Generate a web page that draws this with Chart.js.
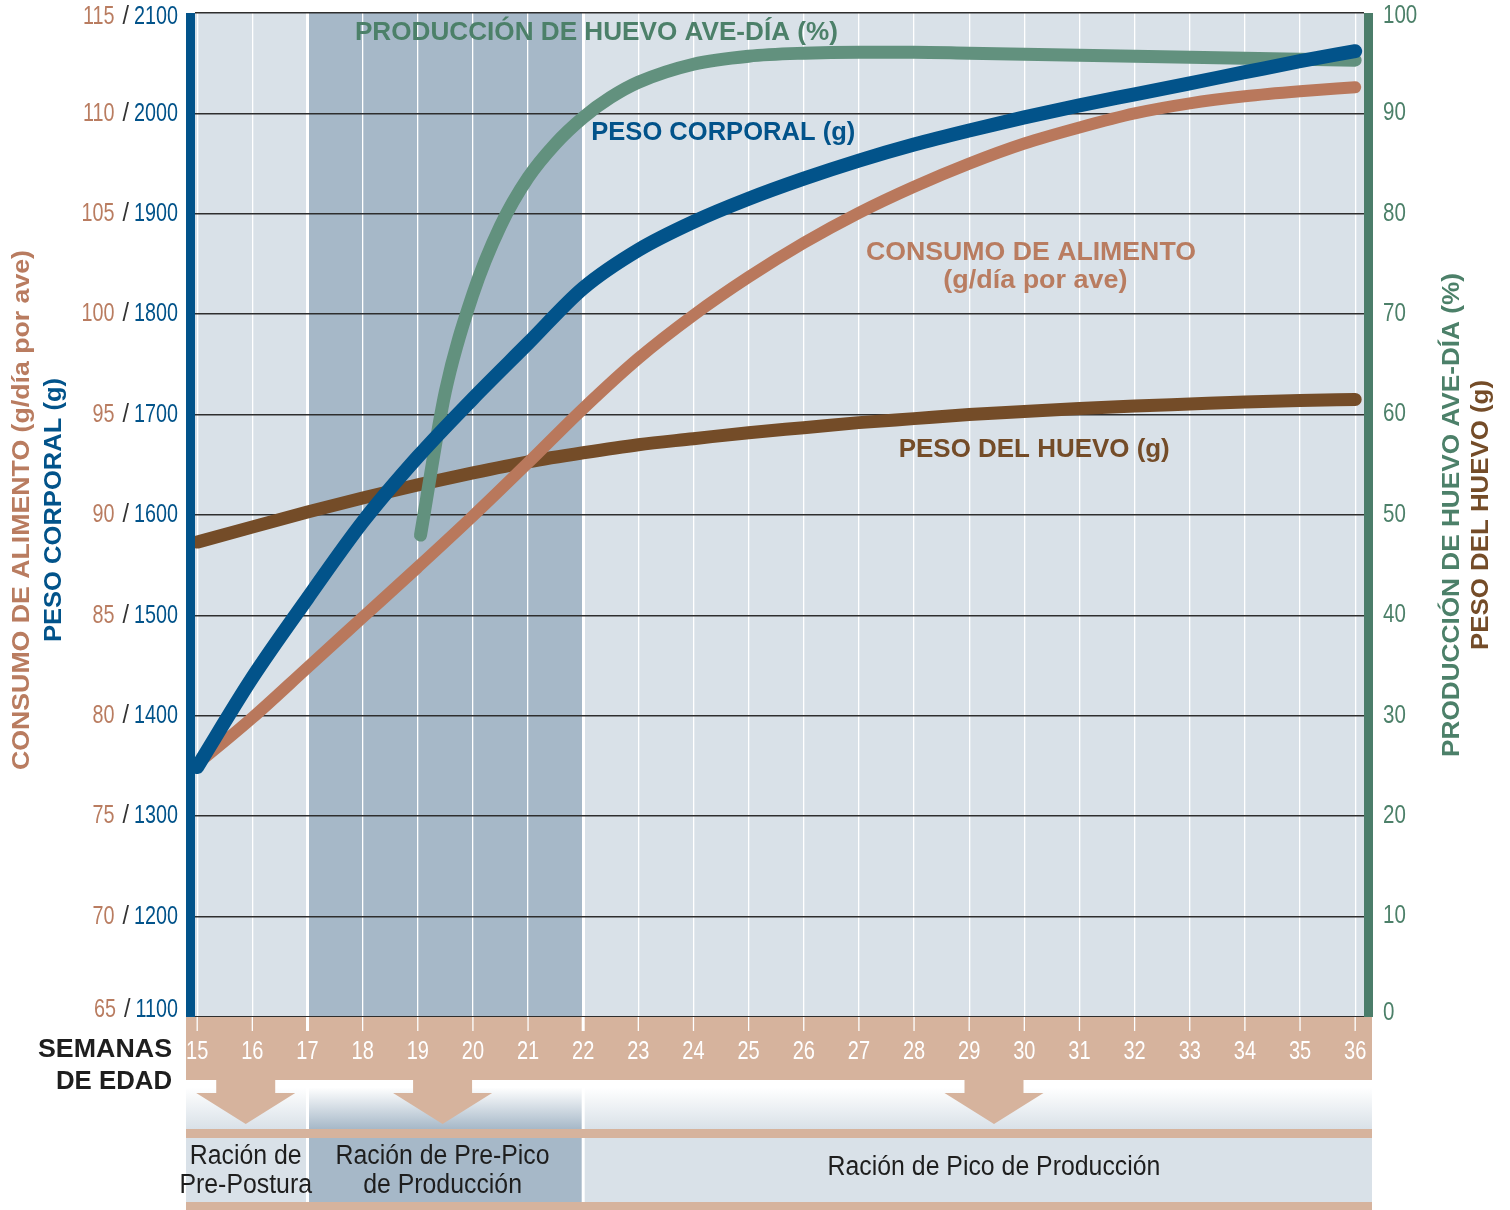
<!DOCTYPE html>
<html>
<head>
<meta charset="utf-8">
<script src="https://cdn.jsdelivr.net/npm/chart.js@4.4.1/dist/chart.umd.min.js"></script>
<style>
  html, body { margin: 0; padding: 0; background: #fff; }
  #wrap { width: 1510px; height: 1210px; }
</style>
</head>
<body>
<div id="wrap"><canvas id="chart" width="1510" height="1210"></canvas></div>
<script>
// weeks of age (x axis)
const weeks = [15, 16, 17, 18, 19, 20, 21, 22, 23, 24, 25, 26, 27, 28, 29, 30, 31, 32, 33, 34, 35, 36];

// PESO CORPORAL (g) - left axis
const bodyWeight = [1349, 1438, 1517, 1593, 1658, 1716, 1771, 1826, 1864, 1892, 1915, 1935, 1953, 1969, 1983, 1996, 2008, 2019, 2030, 2041, 2052, 2062];

// CONSUMO DE ALIMENTO (g/día por ave) - left axis, first number
const feedIntake = [77.6, 79.9, 82.4, 84.9, 87.4, 89.95, 92.6, 95.3, 97.8, 99.95, 101.85, 103.55, 105.05, 106.35, 107.5, 108.5, 109.3, 110.0, 110.5, 110.85, 111.1, 111.3];

// PESO DEL HUEVO (g) - right axis
const eggWeight = [47.3, 48.8, 50.3, 51.7, 53.0, 54.2, 55.3, 56.2, 57.0, 57.6, 58.2, 58.7, 59.2, 59.6, 60.0, 60.3, 60.6, 60.85, 61.05, 61.25, 61.4, 61.5];

// PRODUCCIÓN DE HUEVO AVE-DÍA (%) - right axis, starts at week 19
const prodWeeks = [19.05, 19.5, 20, 20.5, 21, 21.5, 22, 22.5, 23, 24, 25, 26, 27, 28, 29, 30, 31, 32, 33, 34, 35, 36];
const eggProduction = [48, 62.3, 72, 78.8, 83.6, 87.0, 89.6, 91.6, 93.1, 94.9, 95.7, 96.0, 96.1, 96.1, 96.0, 95.9, 95.8, 95.7, 95.6, 95.5, 95.4, 95.3];

// tick labels
const feedTicks = [65, 70, 75, 80, 85, 90, 95, 100, 105, 110, 115];
const bodyTicks = [1100, 1200, 1300, 1400, 1500, 1600, 1700, 1800, 1900, 2000, 2100];
const pctTicks = [0, 10, 20, 30, 40, 50, 60, 70, 80, 90, 100];

// feeding phases (weeks where they change)
const phaseBreaks = [17, 22];
const phaseNames = [["Ración de", "Pre-Postura"], ["Ración de Pre-Pico", "de Producción"], ["Ración de Pico de Producción"]];
const phaseArrowWeeks = [15.88, 19.45, 29.45];

const C = {
  blue: "#02538a",
  tan: "#b9785c",
  tanText: "#b97c60",
  brown: "#744c28",
  green: "#62917e",
  greenBar: "#4b7d6a",
  greenText: "#4c8069",
  light: "#d9e1e8",
  dark: "#a6b8c8",
  band: "#d6b39d",
  grid: "#2e2e2e",
  ink: "#1e1e1e"
};

const FONT = '"Liberation Sans", Arial, sans-serif';

function pts(xs, ys) {
  return xs.map((v, i) => ({ x: v, y: ys[i] }));
}

function drawText(ctx, s, x, y, o) {
  ctx.save();
  ctx.font = o.font;
  ctx.fillStyle = o.color;
  ctx.textBaseline = "middle";
  ctx.textAlign = o.align || "center";
  ctx.translate(x, y);
  if (o.rot) ctx.rotate(o.rot);
  const w = ctx.measureText(s).width;
  const sx = o.w ? o.w / w : (o.sx || 1);
  ctx.scale(sx, 1);
  ctx.fillText(s, 0, 0);
  ctx.restore();
  return w * sx;
}

const decor = {
  id: "decor",
  beforeDraw(chart) {
    const { ctx, chartArea: a, scales } = chart;
    const x = scales.x;
    const x1 = x.getPixelForValue(phaseBreaks[0]);
    const x2 = x.getPixelForValue(phaseBreaks[1]);
    ctx.save();
    ctx.fillStyle = C.light;
    ctx.fillRect(a.left, a.top, a.right - a.left, a.bottom - a.top);
    ctx.fillStyle = C.dark;
    ctx.fillRect(x1, a.top, x2 - x1, a.bottom - a.top);
    ctx.restore();
  },
  afterDraw(chart) {
    const { ctx, chartArea: a, scales } = chart;
    const x = scales.x, yB = scales.y, yF = scales.yFeed, yP = scales.yPct;

    // axis bars
    ctx.fillStyle = C.blue;
    ctx.fillRect(a.left - 9, a.top, 9, a.bottom - a.top);
    ctx.fillStyle = C.greenBar;
    ctx.fillRect(a.right, a.top, 9, a.bottom - a.top);

    // left tick labels: feed / body weight
    const numFont = "26px " + FONT;
    const clampY = yy => Math.min(Math.max(yy, a.top + 4), a.bottom - 7);
    bodyTicks.forEach((b, i) => {
      let right = a.left - 17;
      right -= drawText(ctx, String(b), right, clampY(yB.getPixelForValue(b)), { font: numFont, color: C.blue, sx: 0.76, align: "right" }) + 5;
      right -= drawText(ctx, "/", right, clampY(yB.getPixelForValue(b)), { font: numFont, color: "#333", sx: 0.9, align: "right" }) + 8;
      const f = feedTicks[i];
      drawText(ctx, String(f), right, clampY(yF.getPixelForValue(f)), { font: numFont, color: C.tanText, sx: 0.76, align: "right" });
    });

    // right tick labels
    pctTicks.forEach(v => {
      let yy = yP.getPixelForValue(v);
      yy = Math.min(Math.max(yy, a.top + 3), a.bottom - 4);
      drawText(ctx, String(v), a.right + 19, yy, { font: "25px " + FONT, color: C.greenText, sx: 0.82, align: "left" });
    });

    // axis titles
    const up = -Math.PI / 2;
    const tFont = "bold 24px " + FONT;
    drawText(ctx, "CONSUMO DE ALIMENTO (g/día por ave)", 22, 510, { font: tFont, color: C.tanText, rot: up, w: 520 });
    drawText(ctx, "PESO CORPORAL (g)", 54, 510, { font: tFont, color: C.blue, rot: up, w: 264 });
    drawText(ctx, "PRODUCCIÓN DE HUEVO AVE-DÍA (%)", 1452, 515, { font: tFont, color: C.greenText, rot: up, w: 484 });
    drawText(ctx, "PESO DEL HUEVO (g)", 1481, 515, { font: tFont, color: C.brown, rot: up, w: 270 });

    // series labels inside the plot (week, % on right axis)
    const lFont = "bold 25px " + FONT;
    [
      { t: "PRODUCCIÓN DE HUEVO AVE-DÍA (%)", wk: 22.24, p: 98.0, w: 483, c: C.greenText },
      { t: "PESO CORPORAL (g)", wk: 24.54, p: 88.0, w: 264, c: C.blue },
      { t: "CONSUMO DE ALIMENTO", wk: 30.12, p: 76.1, w: 330, c: C.tanText },
      { t: "(g/día por ave)", wk: 30.2, p: 73.3, w: 184, c: C.tanText },
      { t: "PESO DEL HUEVO (g)", wk: 30.18, p: 56.5, w: 271, c: C.brown }
    ].forEach(l => {
      drawText(ctx, l.t, x.getPixelForValue(l.wk), yP.getPixelForValue(l.p), { font: lFont, color: l.c, w: l.w });
    });

    // bottom band with weeks
    const bandL = a.left - 9, bandR = a.right + 8;
    const yGrad = a.bottom + 63, yBar1 = a.bottom + 112, yBox = a.bottom + 121, yBar2 = a.bottom + 185;
    ctx.fillStyle = C.band;
    ctx.fillRect(bandL, a.bottom, bandR - bandL, yGrad - a.bottom);

    ctx.strokeStyle = "#fff";
    weeks.forEach(w => {
      const px = x.getPixelForValue(w);
      ctx.lineWidth = phaseBreaks.includes(w) ? 3 : 1.3;
      ctx.beginPath();
      ctx.moveTo(px, a.bottom);
      ctx.lineTo(px, a.bottom + 14);
      ctx.stroke();
      drawText(ctx, String(w), px, a.bottom + 35, { font: "25px " + FONT, color: "#fff", sx: 0.8 });
    });

    drawText(ctx, "SEMANAS", 172, 1050, { font: "bold 26px " + FONT, color: C.ink, align: "right", w: 134 });
    drawText(ctx, "DE EDAD", 172, 1082, { font: "bold 26px " + FONT, color: C.ink, align: "right", w: 116 });

    // phase boxes
    const edges = [bandL, x.getPixelForValue(phaseBreaks[0]), x.getPixelForValue(phaseBreaks[1]), bandR];
    for (let i = 0; i < 3; i++) {
      const l = edges[i], r = edges[i + 1];
      const col = i === 1 ? C.dark : C.light;
      const g = ctx.createLinearGradient(0, yGrad, 0, yBar1);
      g.addColorStop(0, "#fff");
      g.addColorStop(0.15, "#fff");
      g.addColorStop(1, col);
      ctx.fillStyle = g;
      ctx.fillRect(l, yGrad, r - l, yBar1 - yGrad);
      ctx.fillStyle = col;
      ctx.fillRect(l, yBox, r - l, yBar2 - yBox);
    }
    ctx.lineWidth = 3;
    edges.slice(1, 3).forEach(px => {
      ctx.beginPath();
      ctx.moveTo(px, yGrad);
      ctx.lineTo(px, yBar2);
      ctx.stroke();
    });
    ctx.fillStyle = C.band;
    ctx.fillRect(bandL, yBar1, bandR - bandL, yBox - yBar1);
    ctx.fillRect(bandL, yBar2, bandR - bandL, 8);

    // arrows + phase names
    phaseArrowWeeks.forEach((w, i) => {
      const cx = x.getPixelForValue(w);
      ctx.fillStyle = C.band;
      ctx.beginPath();
      ctx.moveTo(cx - 29.5, yGrad - 1);
      ctx.lineTo(cx + 29.5, yGrad - 1);
      ctx.lineTo(cx + 29.5, yGrad + 13);
      ctx.lineTo(cx + 49.5, yGrad + 13);
      ctx.lineTo(cx, yGrad + 44);
      ctx.lineTo(cx - 49.5, yGrad + 13);
      ctx.lineTo(cx - 29.5, yGrad + 13);
      ctx.closePath();
      ctx.fill();

      const lines = phaseNames[i];
      const mid = (yBox + yBar2) / 2;
      lines.forEach((s, j) => {
        const yy = lines.length === 1 ? mid - 2 : mid - 13 + j * 29;
        drawText(ctx, s, cx, yy, { font: "27px " + FONT, color: C.ink, sx: 0.92 });
      });
    });
  }
};

new Chart(document.getElementById("chart"), {
  type: "line",
  data: {
    datasets: [
      { label: "PESO CORPORAL (g)", data: pts(weeks, bodyWeight), yAxisID: "y", borderColor: C.blue, borderWidth: 14, order: 0 },
      { label: "PRODUCCIÓN DE HUEVO AVE-DÍA (%)", data: pts(prodWeeks, eggProduction), yAxisID: "yPct", borderColor: C.green, borderWidth: 13, order: 1 },
      { label: "CONSUMO DE ALIMENTO (g/día por ave)", data: pts(weeks, feedIntake), yAxisID: "yFeed", borderColor: C.tan, borderWidth: 12, order: 2 },
      { label: "PESO DEL HUEVO (g)", data: pts(weeks, eggWeight), yAxisID: "yPct", borderColor: C.brown, borderWidth: 13, order: 3 }
    ]
  },
  options: {
    responsive: false,
    animation: false,
    devicePixelRatio: 1,
    layout: { padding: { left: 195, right: 146, top: 13, bottom: 193 } },
    elements: {
      point: { radius: 0, hoverRadius: 0 },
      line: { cubicInterpolationMode: "monotone", borderCapStyle: "round", borderJoinStyle: "round", fill: false }
    },
    plugins: { legend: { display: false }, tooltip: { enabled: false } },
    scales: {
      x: {
        type: "linear",
        min: 14.96,
        max: 36.16,
        afterBuildTicks: s => { s.ticks = weeks.map(v => ({ value: v })); },
        ticks: { display: false },
        border: { display: false },
        grid: { color: "#ffffff", lineWidth: c => (c.tick && phaseBreaks.includes(c.tick.value) ? 3 : 1.3), drawTicks: false }
      },
      y: {
        position: "left",
        min: 1100,
        max: 2100,
        ticks: { display: false, stepSize: 100 },
        border: { display: false },
        grid: { color: C.grid, lineWidth: 1.6, drawTicks: false }
      },
      yFeed: { display: false, min: 65, max: 115 },
      yPct: { display: false, min: 0, max: 100 }
    }
  },
  plugins: [decor]
});
</script>
</body>
</html>
